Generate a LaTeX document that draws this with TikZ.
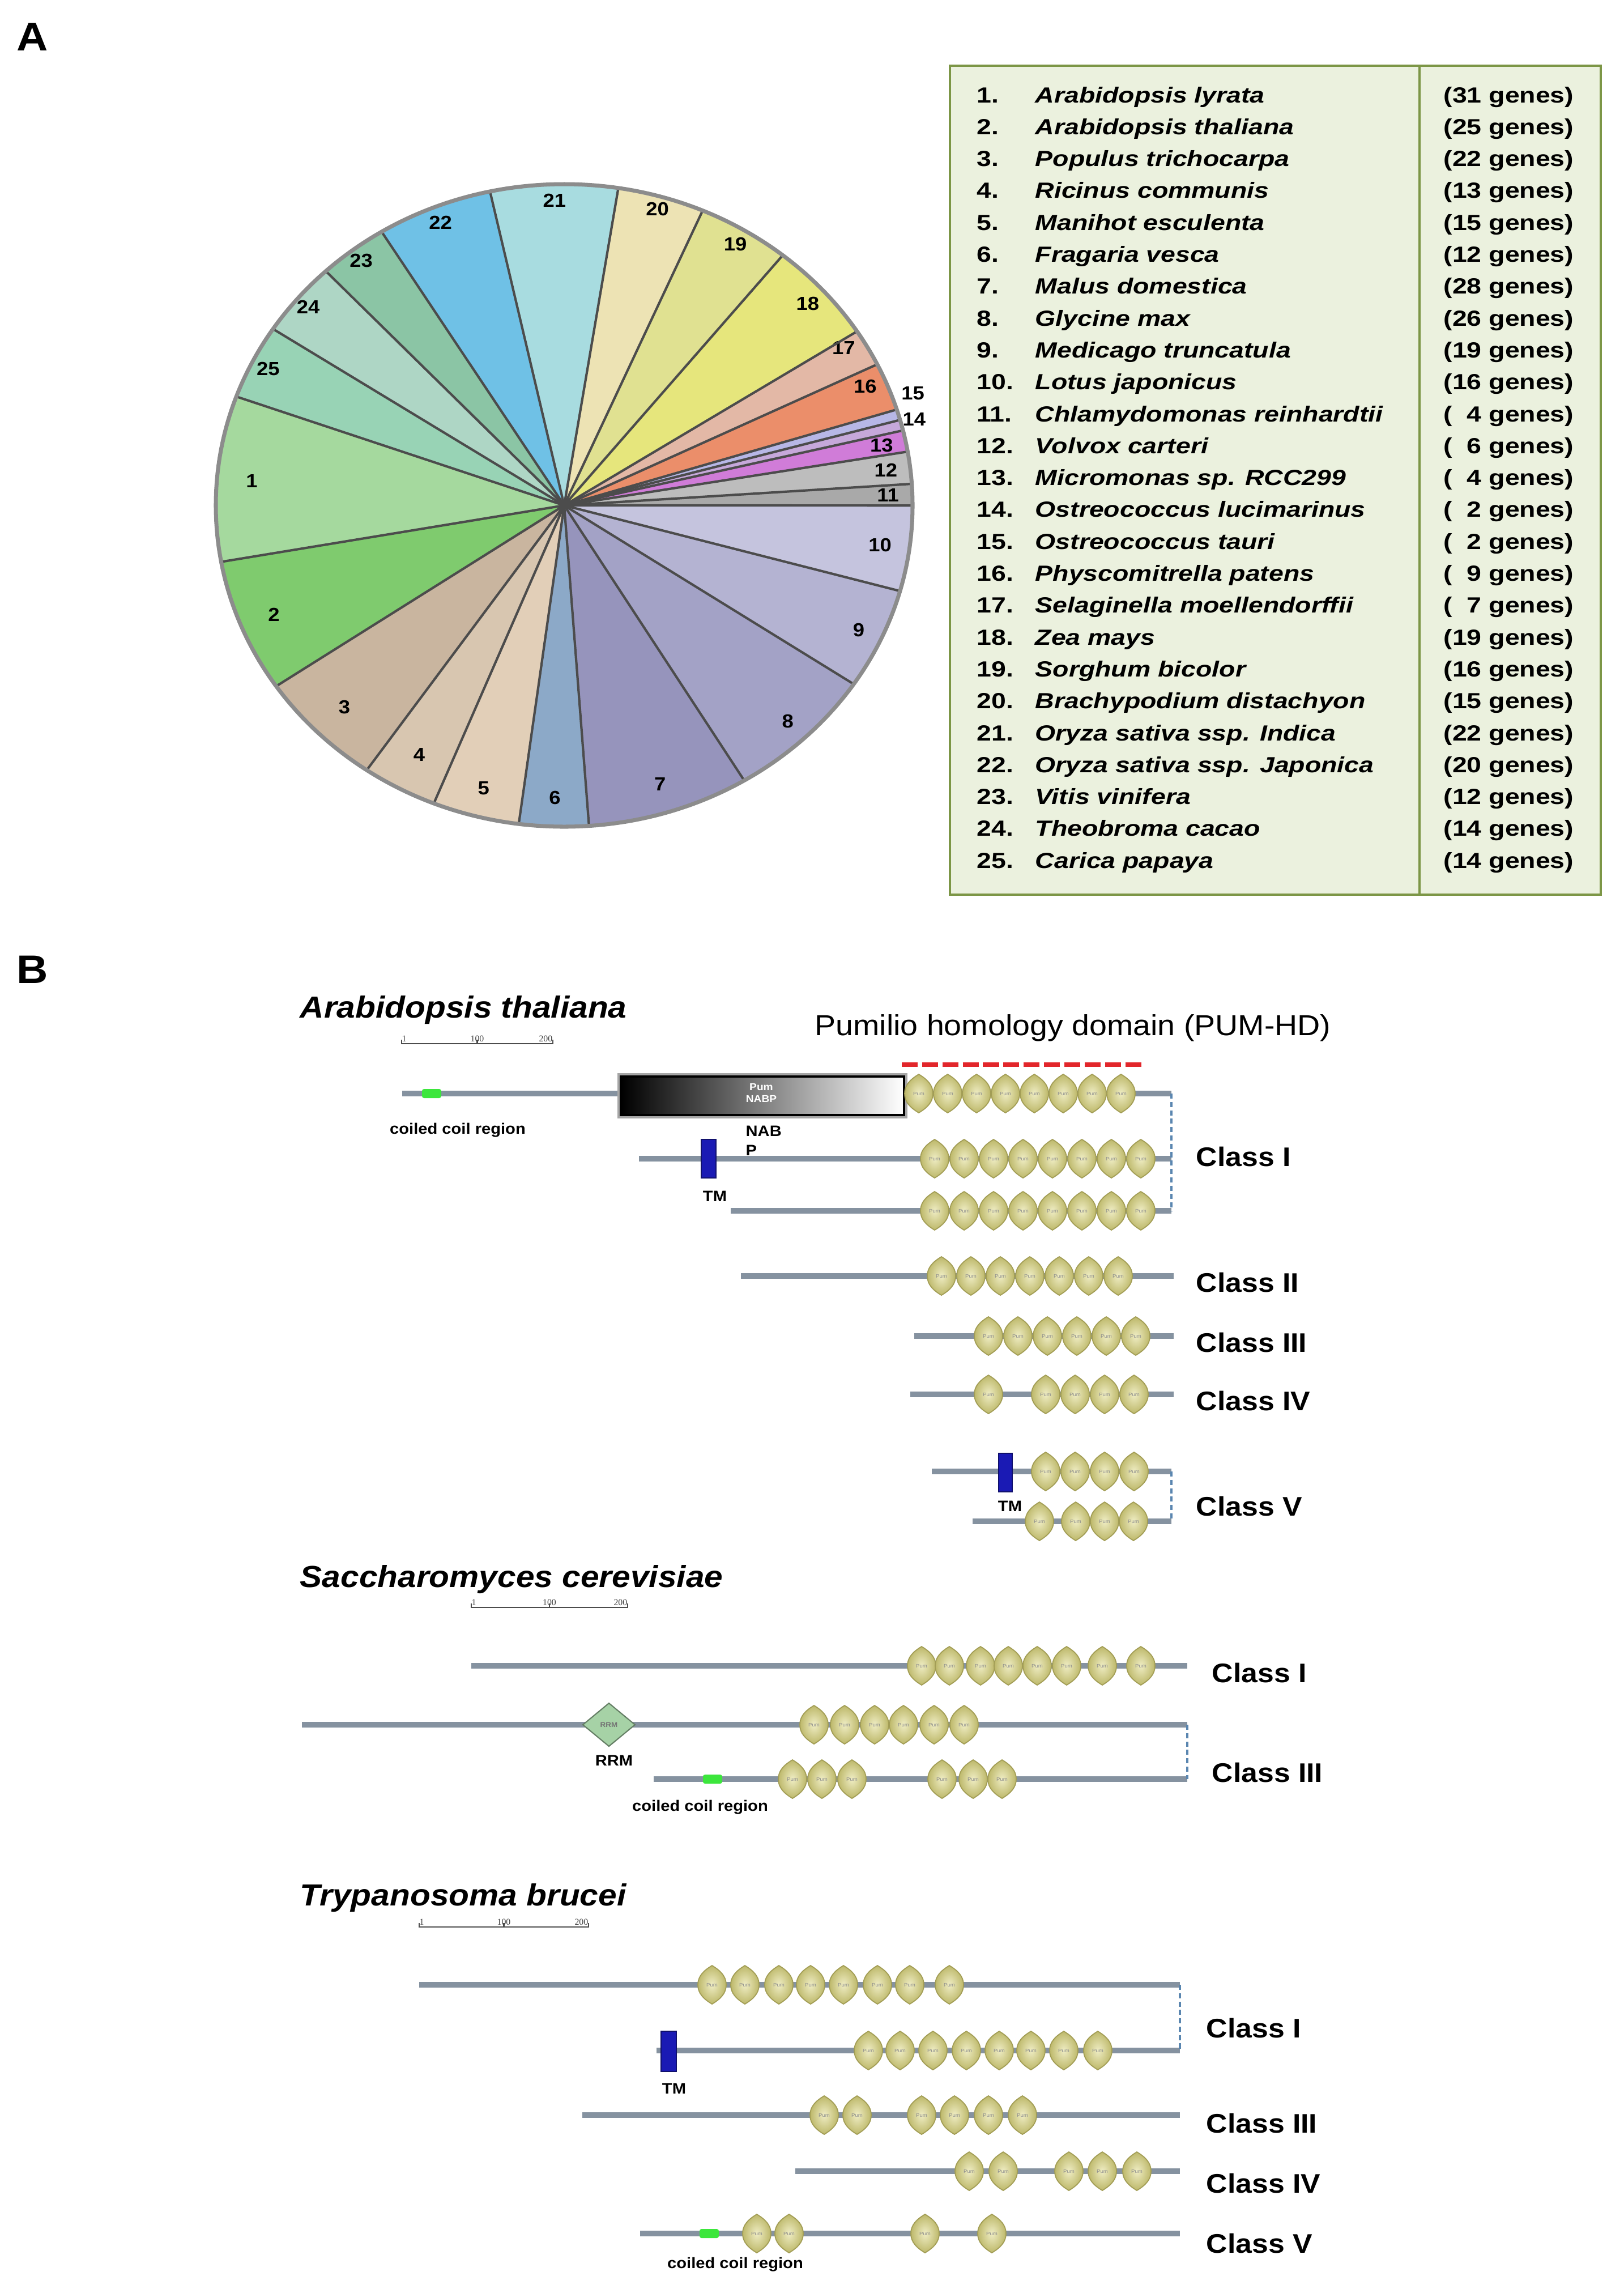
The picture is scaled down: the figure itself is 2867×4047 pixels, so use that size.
\documentclass[tikz,border=0pt]{standalone}
\usepackage{fontspec}
\setmainfont{Liberation Sans}[FakeStretch=1.09]
\newfontfamily\tabfont{Liberation Sans}[FakeStretch=1.2]
\newfontfamily\barfont{Liberation Serif}
\usepackage{tikz}

\definecolor{protline}{HTML}{8592A0}
\definecolor{pumlight}{HTML}{EFEDC4}
\definecolor{pumdark}{HTML}{BDB86A}
\definecolor{pumedge}{HTML}{A29D55}
\definecolor{tmblue}{HTML}{1A1AB4}
\definecolor{coilgreen}{HTML}{3CE63C}
\definecolor{rrmgreen}{HTML}{A6D2A6}
\definecolor{hdred}{HTML}{E2262B}
\definecolor{linkblue}{HTML}{5A86B0}
\definecolor{tabfill}{HTML}{EBF1DE}
\definecolor{tabedge}{HTML}{7C9646}

\begin{document}
\begin{tikzpicture}[x=0.01cm, y=-0.01cm,
		every node/.style={inner sep=0pt},
		panel/.style={font=\fontsize{20}{24}\selectfont\bfseries},
		pienum/.style={font=\fontsize{9.5}{11}\selectfont\bfseries},
		pieline/.style={draw=black!70, line width=1.2pt},
		pierim/.style={draw=black!45, line width=2pt},
		tabframe/.style={draw=tabedge, line width=1.4pt},
		tabnum/.style={anchor=base west, font=\tabfont\fontsize{11}{13}\selectfont\bfseries},
		tabname/.style={anchor=base west, font=\tabfont\fontsize{11}{13}\selectfont\bfseries\itshape},
		tabgene/.style={anchor=base east, font=\tabfont\fontsize{11}{13}\selectfont\bfseries},
		species/.style={anchor=west, font=\fontsize{15.3}{18}\selectfont\bfseries\itshape},
		hdtitle/.style={font=\fontsize{14.5}{17}\selectfont},
		classlab/.style={anchor=west, font=\fontsize{13.5}{16}\selectfont\bfseries},
		smalllab/.style={font=\fontsize{7.6}{9.7}\selectfont\bfseries},
		scalebar/.style={draw=black!70, line width=0.6pt},
		scalenum/.style={font=\barfont\fontsize{4.5}{5}\selectfont, text=black!75},
		protein/.style={draw=protline, line width=2.6pt},
		link/.style={draw=linkblue, line width=1.3pt, dash pattern=on 2.6pt off 1.6pt},
		hdline/.style={draw=hdred, line width=2.3pt, dash pattern=on 8pt off 2.2pt},
		tmbox/.style={fill=tmblue, draw=tmblue!60!black, line width=0.4pt},
		coilbox/.style={fill=coilgreen, rounded corners=1pt},
		rrmbox/.style={fill=rrmgreen, draw=rrmgreen!60!black, line width=0.6pt},
		reptext/.style={font=\fontsize{2.5}{3}\selectfont, text=black!45},
		pumrep/.pic={
			\path[draw=pumedge, line width=0.5pt, inner color=pumlight, outer color=pumdark]
				(0,-34) .. controls (15,-25) and (25,-15) .. (25,0)
				.. controls (25,15) and (15,25) .. (0,34)
				.. controls (-15,25) and (-25,15) .. (-25,0)
				.. controls (-25,-15) and (-15,-25) .. (0,-34) -- cycle;
			\node[reptext] (-t) {Pum};
		}
	]
	\useasboundingbox (0,0) rectangle (2867,4047);

	% Panel A: share of genes per species
	\node[panel] (labA) at (57,65) {A};
	\def\pielist{1/31/A5D99E/0.90/0, 2/25/7FCB6E/0.90/0, 3/22/C9B59F/0.89/0,
		4/13/D8C6B0/0.88/0, 5/15/E2CFB8/0.91/0, 6/12/8CA9C8/0.91/0,
		7/28/9694BC/0.91/0, 8/26/A3A2C6/0.93/0, 9/19/B4B3D2/0.93/0,
		10/16/C5C4DE/0.915/0, 11/4/A9A9A9/0.93/0, 12/6/BDBDBD/0.93/0,
		13/4/D07CD8/0.93/0, 14/2/C6A8DA/1.04/0.5, 15/2/B7B7E6/1.06/2.8,
		16/9/EB8E6A/0.94/1.5, 17/7/E3B8A6/0.94/2, 18/19/E6E67C/0.94/0,
		19/16/E0E191/0.95/0, 20/15/EDE3B4/0.96/0, 21/22/A8DCE0/0.95/0,
		22/20/6FC1E6/0.95/0, 23/12/8BC5A5/0.96/0, 24/14/AED6C5/0.96/0,
		25/14/98D3B5/0.95/0}
	\begin{scope}[shift={(996,892)}, y=0.01cm]
		\gdef\piefrom{160.2}
		\foreach \n/\g/\col/\lr/\ld in \pielist {
			\pgfmathsetmacro{\pieto}{\piefrom + \g*360/373}
			\definecolor{slice}{HTML}{\col}
			\fill[slice] (0,0) -- (\piefrom:615 and 567)
				arc[start angle=\piefrom, end angle=\pieto, x radius=615, y radius=567] -- cycle;
			\xdef\piefrom{\pieto}
		}
		\gdef\piefrom{160.2}
		\foreach \n/\g/\col/\lr/\ld in \pielist {
			\pgfmathsetmacro{\pieto}{\piefrom + \g*360/373}
			\pgfmathsetmacro{\piemid}{(\piefrom + \pieto)/2 + \ld}
			\pgfmathsetmacro{\lx}{615*\lr*cos(\piemid)}
			\pgfmathsetmacro{\ly}{567*\lr*sin(\piemid)}
			\draw[pieline] (0,0) -- (\piefrom:615 and 567);
			\node[pienum] (pie\n) at (\lx,\ly) {\n};
			\xdef\piefrom{\pieto}
		}
		\draw[pierim] (0,0) ellipse[x radius=615, y radius=567];
	\end{scope}

	% Species table
	\draw[tabframe, fill=tabfill] (1677,116) rectangle (2826,1579);
	\draw[tabframe] (2506,116) -- (2506,1579);
	\foreach \i/\sp/\ng in {1/Arabidopsis lyrata/31, 2/Arabidopsis thaliana/25,
		3/Populus trichocarpa/22, 4/Ricinus communis/13, 5/Manihot esculenta/15,
		6/Fragaria vesca/12, 7/Malus domestica/28, 8/Glycine max/26,
		9/Medicago truncatula/19, 10/Lotus japonicus/16,
		11/Chlamydomonas reinhardtii/\phantom{0}4, 12/Volvox carteri/\phantom{0}6,
		13/Micromonas sp. RCC299/\phantom{0}4, 14/Ostreococcus lucimarinus/\phantom{0}2,
		15/Ostreococcus tauri/\phantom{0}2, 16/Physcomitrella patens/\phantom{0}9,
		17/Selaginella moellendorffii/\phantom{0}7, 18/Zea mays/19,
		19/Sorghum bicolor/16, 20/Brachypodium distachyon/15,
		21/Oryza sativa ssp. Indica/22, 22/Oryza sativa ssp. Japonica/20,
		23/Vitis vinifera/12, 24/Theobroma cacao/14, 25/Carica papaya/14} {
		\pgfmathsetmacro{\ty}{181 + 56.3*(\i - 1)}
		\node[tabnum] (num\i) at (1724,\ty) {\i.};
		\node[tabname] (sp\i) at (1827,\ty) {\sp};
		\node[tabgene] (gen\i) at (2779,\ty) {(\ng\ genes)};
	}

	% Panel B: domain architecture
	\node[panel] (labB) at (57,1711) {B};
	\node[species] (ath) at (529,1783) {Arabidopsis thaliana};
	\node[species] (sce) at (529,2788) {Saccharomyces cerevisiae};
	\node[species] (tbr) at (529,3350) {Trypanosoma brucei};
	\foreach \sx/\sy/\sl [count=\k] in {709/1842/267, 832/2837/276, 740/3401/299} {
		\draw[scalebar] (\sx,\sy-7) -- (\sx,\sy) -- (\sx+\sl,\sy) -- (\sx+\sl,\sy-7);
		\draw[scalebar] (\sx+\sl/2,\sy) -- (\sx+\sl/2,\sy-7);
		\node[scalenum, anchor=south west] (sb\k-a) at (\sx,\sy-3) {1};
		\node[scalenum, anchor=south] (sb\k-b) at (\sx+\sl/2,\sy-3) {100};
		\node[scalenum, anchor=south east] (sb\k-c) at (\sx+\sl,\sy-3) {200};
	}

	% protein backbones
	\foreach \nm/\xa/\xb/\y in {a1/710/2068/1930, a2/1128/2068/2045, a3/1290/2068/2137,
		a4/1308/2072/2252, a5/1614/2072/2358, a6/1607/2072/2461,
		a7/1645/2068/2597, a8/1717/2068/2685,
		s1/832/2096/2940, s2/533/2096/3044, s3/1154/2096/3140,
		t1/740/2083/3503, t2/1159/2083/3619, t3/1028/2083/3733,
		t4/1404/2083/3832, t5/1130/2083/3942} {
		\coordinate (\nm-s) at (\xa,\y);
		\coordinate (\nm-e) at (\xb,\y);
		\draw[protein] (\nm-s) -- (\nm-e);
	}
	\draw[link] (a1-e) -- (a3-e);
	\draw[link] (a7-e) -- (a8-e);
	\draw[link] (s2-e) -- (s3-e);
	\draw[link] (t1-e) -- (t2-e);

	% other domains
	\fill[coilbox] (745,1922) rectangle (779,1938);
	\fill[coilbox] (1241,3132) rectangle (1275,3148);
	\fill[coilbox] (1235,3934) rectangle (1269,3950);
	\filldraw[tmbox] (1238,2011) rectangle (1264,2079);
	\filldraw[tmbox] (1763,2565) rectangle (1787,2633);
	\filldraw[tmbox] (1167,3585) rectangle (1194,3656);
	\draw[gray!70, line width=1pt] (1092,1896) rectangle (1600,1972);
	\shade[left color=black, right color=white] (1096,1900) rectangle (1596,1968);
	\draw[black, line width=1.2pt] (1096,1900) rectangle (1596,1968);
	\node[reptext, font=\fontsize{5}{6}\selectfont\bfseries, text=white, align=center] (nabpin) at (1344,1929) {Pum\\NABP};
	\filldraw[rrmbox] (1075,3006) -- (1121,3044) -- (1075,3082) -- (1029,3044) -- cycle;
	\node[reptext, font=\fontsize{3.5}{4}\selectfont\bfseries, text=black!55] (rrmin) at (1075,3044) {RRM};

	% Pum repeats
	\foreach \y/\xs in {1930/{1622,1673,1724,1775,1826,1877,1928,1979},
		2045/{1650,1702,1754,1806,1858,1910,1962,2014},
		2137/{1650,1702,1754,1806,1858,1910,1962,2014},
		2252/{1662,1714,1766,1818,1870,1922,1974},
		2358/{1745,1797,1849,1901,1953,2005},
		2461/{1745,1846,1898,1950,2002},
		2597/{1846,1898,1950,2002},
		2685/{1835,1899,1950,2001},
		2940/{1627,1676,1731,1780,1831,1883,1946,2014},
		3044/{1437,1491,1544,1595,1649,1702},
		3140/{1399,1451,1504,1663,1718,1769},
		3503/{1257,1315,1375,1431,1489,1549,1606,1676},
		3619/{1533,1589,1647,1706,1764,1820,1878,1938},
		3733/{1455,1513,1627,1685,1745,1805},
		3832/{1711,1771,1887,1946,2007},
		3942/{1336,1393,1633,1751}} {
		\foreach \x in \xs {
			\pic (rep\y-\x) at (\x,\y) {pumrep};
		}
	}

	% PUM-HD mark
	\node[hdtitle] (pumhd) at (1894,1814) {Pumilio homology domain (PUM-HD)};
	\coordinate (hd-s) at (1592,1879);
	\coordinate (hd-e) at (2018,1879);
	\draw[hdline] (hd-s) -- (hd-e);

	% domain labels
	\node[smalllab] (cc1) at (808,1995) {coiled coil region};
	\node[smalllab] (tm1) at (1262,2111) {TM};
	\node[smalllab, align=left, anchor=north west] (nabp) at (1316,1986) {NAB\\P};
	\node[smalllab] (tm2) at (1783,2658) {TM};
	\node[smalllab] (rrm) at (1084,3107) {RRM};
	\node[smalllab] (cc2) at (1236,3190) {coiled coil region};
	\node[smalllab] (tm3) at (1190,3686) {TM};
	\node[smalllab] (cc3) at (1298,3997) {coiled coil region};

	% class labels
	\foreach \nm/\x/\y/\cl in {ca1/2111/2041/I, ca2/2111/2263/II, ca3/2111/2369/III,
		ca4/2111/2472/IV, ca5/2111/2658/V, cs1/2139/2952/I, cs3/2139/3128/III,
		ct1/2129/3579/I, ct3/2129/3747/III, ct4/2129/3853/IV, ct5/2129/3959/V} {
		\node[classlab] (\nm) at (\x,\y) {Class \cl};
	}
\end{tikzpicture}
\end{document}
